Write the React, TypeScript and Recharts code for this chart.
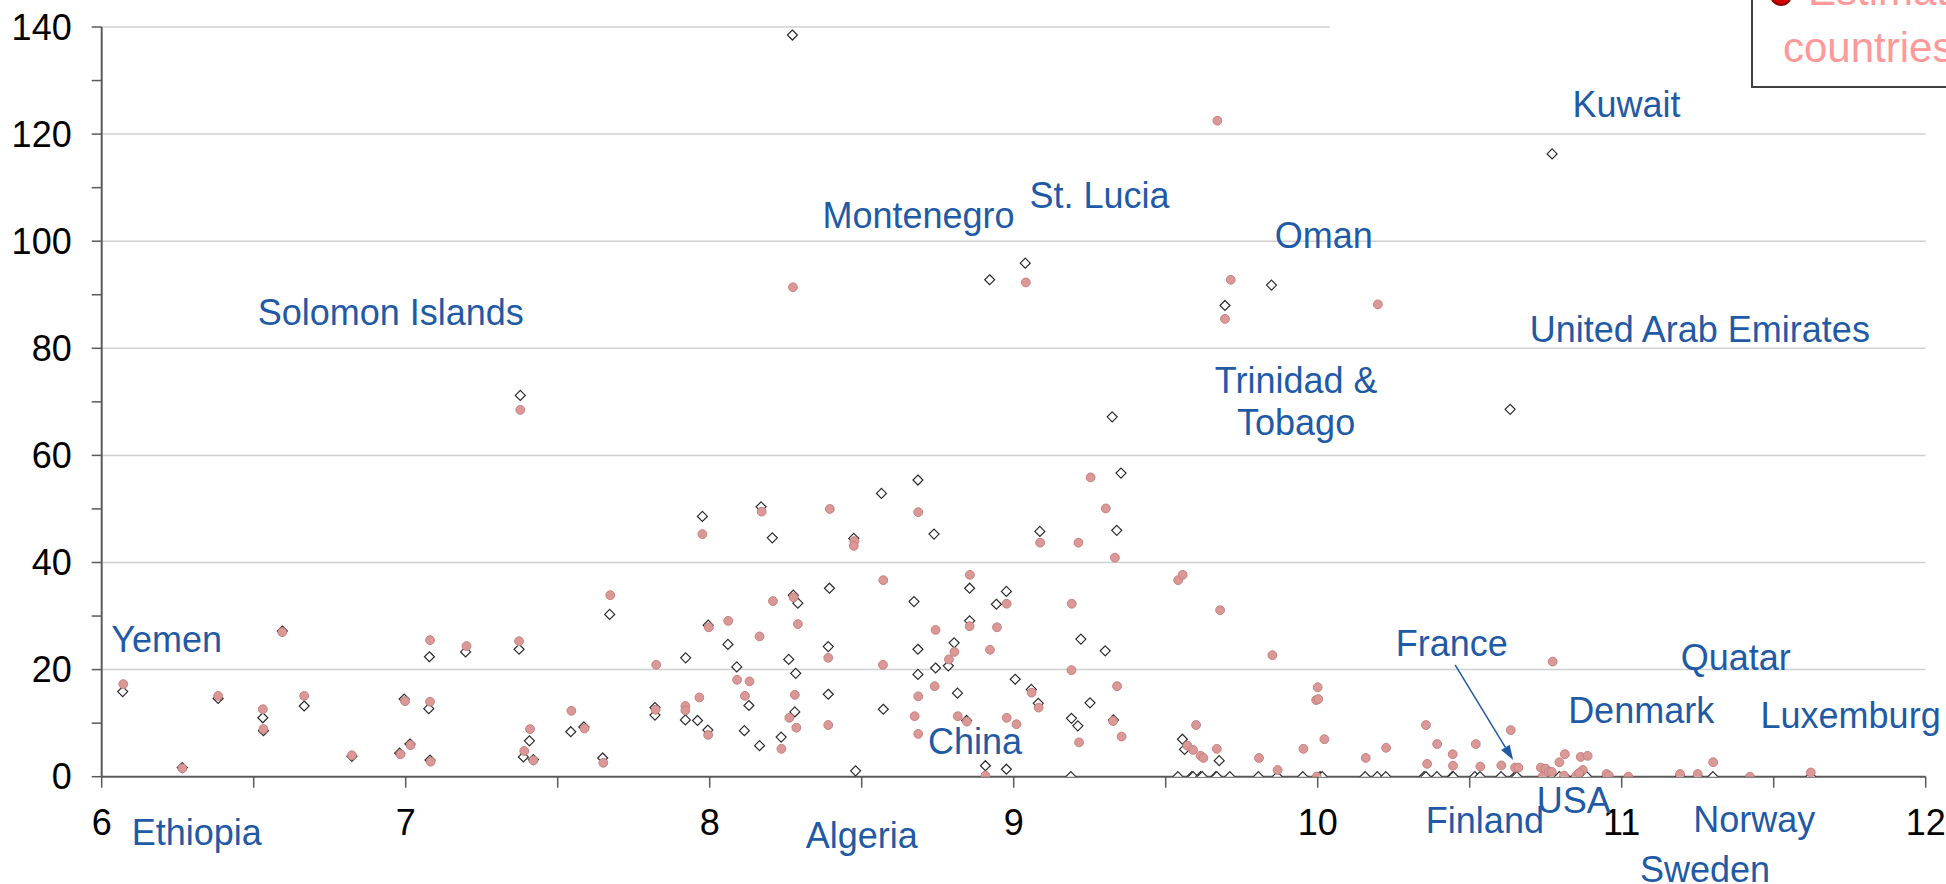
import React from 'react';
import { ScatterChart, Scatter, XAxis, YAxis, ReferenceLine, ReferenceDot } from 'recharts';

const FONT = '"Liberation Sans", Arial, Helvetica, sans-serif';

// Reported values (open diamonds): [x, y]
const reportedPoints: [number, number][] = [
  [6.069, 15.9], [6.265, 1.7], [6.383, 14.6], [6.53, 11.0], [6.532, 8.6], [6.594, 27.2], [6.666, 13.2],
  [6.823, 3.8], [6.98, 4.4], [6.995, 14.5], [7.014, 6.1], [7.078, 22.4], [7.076, 12.7], [7.08, 3.1],
  [7.197, 23.3], [7.373, 23.8], [7.377, 71.2], [7.387, 3.7], [7.407, 6.7], [7.42, 3.2], [7.543, 8.4],
  [7.586, 9.3], [7.648, 3.5], [7.671, 30.3], [7.82, 12.9], [7.82, 11.5], [7.921, 22.2], [7.92, 10.6],
  [7.976, 48.6], [7.96, 10.5], [7.994, 8.7], [7.995, 28.3], [8.06, 24.7], [8.089, 20.5], [8.129, 13.3],
  [8.114, 8.6], [8.169, 50.4], [8.206, 44.6], [8.164, 5.8], [8.235, 7.4], [8.26, 21.9], [8.283, 19.3],
  [8.28, 12.1], [8.275, 33.9], [8.29, 32.4], [8.394, 35.2], [8.39, 24.3], [8.39, 15.4], [8.272, 138.5],
  [8.48, 1.1], [8.474, 44.5], [8.565, 52.9], [8.571, 12.6], [8.685, 55.4], [8.738, 45.3], [8.672, 32.7],
  [8.685, 23.8], [8.685, 19.1], [8.743, 20.3], [8.785, 20.7], [8.804, 25.0], [8.815, 15.6], [8.845, 10.5],
  [8.855, 35.2], [8.855, 29.1], [8.943, 32.2], [8.976, 34.6], [8.907, 2.05], [8.976, 1.4], [9.005, 18.2],
  [9.058, 16.3], [9.081, 13.7], [9.086, 45.8], [9.221, 25.7], [9.19, 10.9], [9.211, 9.5], [9.251, 13.8],
  [9.324, 67.2], [9.353, 56.7], [9.339, 46.0], [9.301, 23.5], [9.328, 10.6], [9.555, 7.0], [9.562, 5.1],
  [9.676, 3.0], [8.921, 92.8], [9.038, 95.9], [9.695, 88.0], [9.848, 91.8], [10.771, 116.3], [10.633, 68.6],
];

// Reported countries sitting on zero
const reportedZeroX: number[] = [
  9.188, 9.54, 9.586, 9.59, 9.615, 9.62, 9.665, 9.668, 9.711, 9.805, 9.867, 9.951, 10.008, 10.015,
  10.156, 10.196, 10.224, 10.35, 10.356, 10.392, 10.443, 10.446, 10.517, 10.534, 10.603, 10.649, 10.655,
  10.74, 10.775, 10.795, 10.813, 10.849, 10.874, 10.885, 10.951, 11.192, 11.25, 11.3, 11.622,
];

// Estimated values (pink circles): [x, y]
const estimatedPoints: [number, number][] = [
  [6.071, 17.3], [6.265, 1.56], [6.383, 15.1], [6.53, 12.6], [6.532, 8.9], [6.594, 27.0], [6.666, 15.1],
  [6.823, 4.0], [6.983, 4.2], [6.998, 14.1], [7.016, 5.9], [7.08, 25.5], [7.08, 14.0], [7.082, 2.8],
  [7.2, 24.4], [7.373, 25.3], [7.377, 68.5], [7.409, 8.9], [7.39, 4.8], [7.42, 3.05], [7.545, 12.3],
  [7.588, 9.0], [7.65, 2.6], [7.673, 33.9], [7.824, 20.9], [7.822, 12.5], [7.92, 13.2], [7.92, 12.4],
  [7.976, 45.3], [7.966, 14.8], [7.995, 7.8], [7.997, 27.9], [8.061, 29.1], [8.09, 18.1], [8.131, 17.8],
  [8.116, 15.1], [8.171, 49.5], [8.208, 32.8], [8.164, 26.2], [8.236, 5.2], [8.28, 15.3], [8.262, 11.0],
  [8.285, 9.15], [8.276, 33.5], [8.29, 28.5], [8.395, 50.0], [8.39, 22.2], [8.39, 9.65], [8.476, 44.0],
  [8.474, 43.1], [8.571, 36.7], [8.57, 20.9], [8.686, 49.4], [8.686, 15.0], [8.674, 11.3], [8.686, 8.0],
  [8.743, 27.4], [8.74, 16.9], [8.787, 21.9], [8.805, 23.3], [8.816, 11.3], [8.846, 10.3], [8.856, 37.7],
  [8.855, 28.1], [8.922, 23.7], [8.945, 27.9], [8.977, 32.3], [8.907, 0.2], [8.977, 11.0], [9.009, 9.8],
  [9.059, 15.7], [9.082, 12.9], [9.087, 43.7], [9.213, 43.7], [9.191, 32.3], [9.19, 19.9], [9.215, 6.4],
  [9.253, 55.9], [9.303, 50.1], [9.333, 40.9], [9.34, 16.9], [9.327, 10.4], [9.355, 7.5], [9.541, 36.7],
  [9.556, 37.7], [9.571, 5.8], [8.274, 91.4], [9.67, 122.5], [9.04, 92.3], [9.714, 92.8], [9.695, 85.5],
  [10.198, 88.2], [9.6, 9.65], [9.59, 5.0], [9.615, 3.9], [9.624, 3.5], [9.668, 5.2], [9.679, 31.1],
  [9.807, 3.5], [9.851, 22.7], [9.868, 1.25], [9.953, 5.2], [9.997, 0], [10.0, 16.7], [9.995, 14.3],
  [10.002, 14.5], [10.022, 7.0], [10.158, 3.5], [10.225, 5.4], [10.356, 9.65], [10.36, 2.4], [10.393, 6.1],
  [10.444, 4.2], [10.445, 2.05], [10.52, 6.1], [10.535, 1.9], [10.604, 2.1], [10.635, 8.7], [10.649, 1.7],
  [10.66, 1.7], [10.734, 1.7], [10.74, 0], [10.773, 21.5], [10.813, 4.2], [10.795, 2.7], [10.865, 3.7],
  [10.888, 3.9], [10.872, 1.25], [10.75, 1.5], [10.76, 0.9], [10.77, 0.9], [10.81, 0.2], [10.85, 0.1],
  [10.86, 0.7], [10.95, 0.5], [10.958, 0.2], [11.022, 0], [11.192, 0.5], [11.25, 0.5], [11.301, 2.7],
  [11.422, 0], [11.622, 0.8],
];

const xTicks = [6, 6.5, 7, 7.5, 8, 8.5, 9, 9.5, 10, 10.5, 11, 11.5, 12];
const yTicks = [0, 10, 20, 30, 40, 50, 60, 70, 80, 90, 100, 110, 120, 130, 140];
const gridValues = [20, 40, 60, 80, 100, 120];
const topGridEnd = 10.04;

const countryLabels: { name: string; x: number; y: number }[] = [
  { name: 'Solomon Islands', x: 6.951, y: 86.7 },
  { name: 'Montenegro', x: 8.687, y: 104.9 },
  { name: 'St. Lucia', x: 9.282, y: 108.5 },
  { name: 'Oman', x: 10.02, y: 101.2 },
  { name: 'Kuwait', x: 11.016, y: 125.5 },
  { name: 'United Arab Emirates', x: 11.257, y: 83.6 },
  { name: 'Trinidad &', x: 9.929, y: 74.1 },
  { name: 'Tobago', x: 9.929, y: 66.2 },
  { name: 'Yemen', x: 6.214, y: 25.7 },
  { name: 'Ethiopia', x: 6.313, y: -10.4 },
  { name: 'Algeria', x: 8.5, y: -11.0 },
  { name: 'China', x: 8.873, y: 6.6 },
  { name: 'France', x: 10.441, y: 24.9 },
  { name: 'Quatar', x: 11.375, y: 22.3 },
  { name: 'Denmark', x: 11.064, y: 12.4 },
  { name: 'Luxemburg', x: 11.753, y: 11.4 },
  { name: 'Finland', x: 10.55, y: -8.2 },
  { name: 'USA', x: 10.842, y: -4.3 },
  { name: 'Norway', x: 11.436, y: -7.9 },
  { name: 'Sweden', x: 11.274, y: -17.2 },
];

const franceArrow = { from: { x: 10.452, y: 20.9 }, to: { x: 10.643, y: 3.1 } };
const legendLines = ['Estimated', 'countries'];

const reportedData = [
  ...reportedPoints.map(([x, y]) => ({ x, y })),
  ...reportedZeroX.map((x) => ({ x, y: 0 })),
];
const estimatedData = estimatedPoints.map(([x, y]) => ({ x, y }));

const LABEL_BLUE = '#1F5AA6';

const DiamondShape = (props: any) => {
  const { cx, cy } = props;
  if (cx == null || cy == null) return <g />;
  const h = 5;
  return (
    <path
      d={`M${cx},${cy - h}L${cx + h},${cy}L${cx},${cy + h}L${cx - h},${cy}Z`}
      fill="#ffffff"
      stroke="#2b2b2b"
      strokeWidth={1.2}
    />
  );
};

const CircleShape = (props: any) => {
  const { cx, cy } = props;
  if (cx == null || cy == null) return <g />;
  return <circle cx={cx} cy={cy} r={4.4} fill="#DA9997" stroke="#C7807E" strokeWidth={1} />;
};

const ArrowShape = (props: any) => {
  const { x1, y1, x2, y2 } = props;
  if ([x1, y1, x2, y2].some((v) => v == null || isNaN(v))) return <g />;
  const ang = Math.atan2(y2 - y1, x2 - x1);
  const len = 15;
  const hw = 5;
  const bx = x2 - len * Math.cos(ang);
  const by = y2 - len * Math.sin(ang);
  const px = -Math.sin(ang) * hw;
  const py = Math.cos(ang) * hw;
  return (
    <g>
      <line x1={x1} y1={y1} x2={bx} y2={by} stroke={LABEL_BLUE} strokeWidth={1.5} />
      <polygon
        points={`${x2},${y2} ${bx + px},${by + py} ${bx - px},${by - py}`}
        fill={LABEL_BLUE}
      />
    </g>
  );
};

export default function App() {
  return (
    <div
      style={{
        position: 'absolute',
        left: 0,
        top: 0,
        width: 1946,
        height: 884,
        overflow: 'hidden',
        background: '#ffffff',
        fontFamily: FONT,
      }}
    >
      <ScatterChart
        width={1946}
        height={884}
        margin={{ top: 27, right: 20.3, bottom: 0, left: 0 }}
      >
        <XAxis
          type="number"
          dataKey="x"
          domain={[6, 12]}
          ticks={xTicks}
          interval={0}
          allowDataOverflow
          height={107.3}
          tickSize={11}
          tickMargin={22}
          axisLine={{ stroke: '#5a5a5a', strokeWidth: 2 }}
          tickLine={{ stroke: '#5a5a5a', strokeWidth: 1.5 }}
          tick={{ fill: '#000000', fontSize: 36, fontFamily: FONT }}
          tickFormatter={(v: number) => (Number.isInteger(v) ? String(v) : '')}
        />
        <YAxis
          type="number"
          dataKey="y"
          domain={[0, 140]}
          ticks={yTicks}
          interval={0}
          allowDataOverflow
          width={101.7}
          tickSize={10}
          tickMargin={20}
          axisLine={{ stroke: '#5a5a5a', strokeWidth: 2 }}
          tickLine={{ stroke: '#5a5a5a', strokeWidth: 1.5 }}
          tick={{ fill: '#000000', fontSize: 36, fontFamily: FONT }}
          tickFormatter={(v: number) => (v % 20 === 0 ? String(v) : '')}
        />
        {gridValues.map((v) => (
          <ReferenceLine key={`g${v}`} y={v} stroke="#D0D0D0" strokeWidth={1.5} />
        ))}
        <ReferenceLine
          segment={[
            { x: 6, y: 140 },
            { x: topGridEnd, y: 140 },
          ]}
          stroke="#D0D0D0"
          strokeWidth={1.5}
        />
        <Scatter
          name="Reported"
          data={reportedData}
          shape={DiamondShape}
          isAnimationActive={false}
        />
        <Scatter
          name="Estimated"
          data={estimatedData}
          shape={CircleShape}
          isAnimationActive={false}
        />
        <ReferenceLine
          segment={[franceArrow.from, franceArrow.to]}
          ifOverflow="visible"
          shape={ArrowShape}
        />
        {countryLabels.map((c) => (
          <ReferenceDot
            key={c.name}
            x={c.x}
            y={c.y}
            r={0}
            fill="none"
            stroke="none"
            ifOverflow="visible"
            label={{
              value: c.name,
              position: 'center',
              fill: LABEL_BLUE,
              fontSize: 36,
              fontFamily: FONT,
            }}
          />
        ))}
      </ScatterChart>
      <svg
        width={1946}
        height={884}
        style={{ position: 'absolute', left: 0, top: 0, pointerEvents: 'none' }}
      >
        <rect x={1752} y={-10} width={300} height={97} fill="#ffffff" stroke="#404040" strokeWidth={2} />
        <circle cx={1781} cy={-5} r={10} fill="#D40000" stroke="#8B0000" strokeWidth={2} />
        <text x={1808} y={5} fontSize={42} fill="#FF9999" fontFamily={FONT}>
          {legendLines[0]}
        </text>
        <text x={1783} y={61.7} fontSize={42} fill="#FF9999" fontFamily={FONT}>
          {legendLines[1]}
        </text>
      </svg>
    </div>
  );
}
